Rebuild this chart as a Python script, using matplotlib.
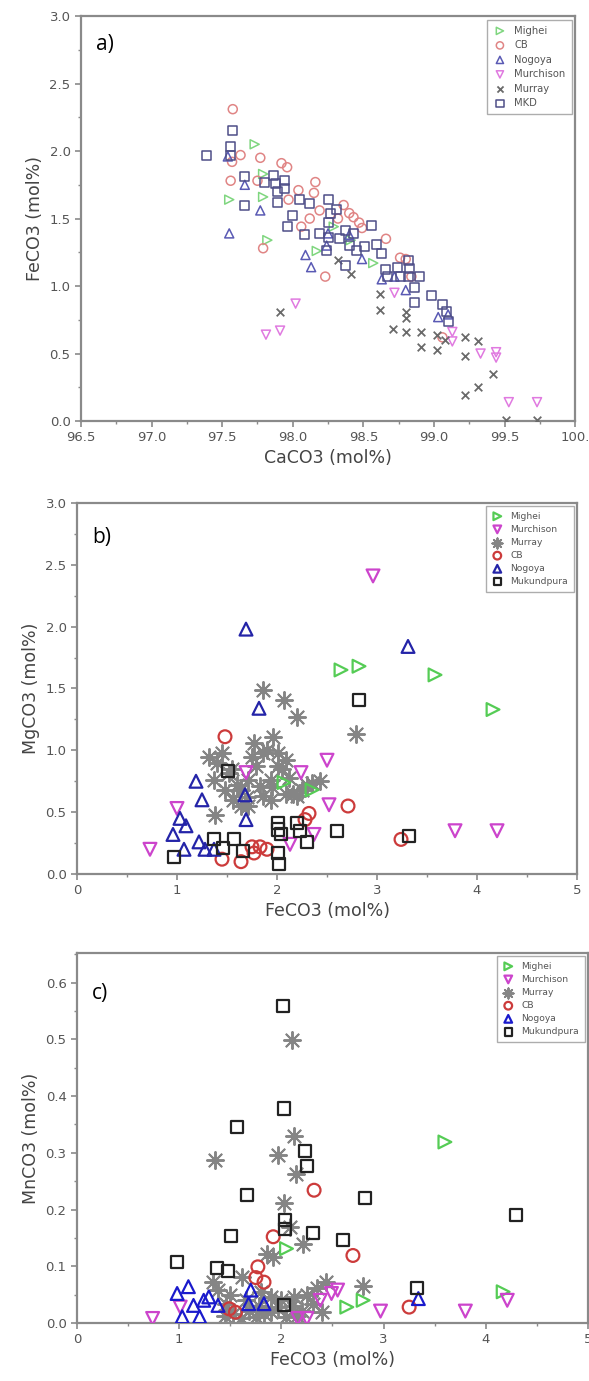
import matplotlib
matplotlib.use("Agg")
import matplotlib.pyplot as plt
from matplotlib.ticker import AutoMinorLocator, MultipleLocator


# ---- panel a) data: CaCO3 vs FeCO3 (mol%) ----
a_mighei_x = [97.55, 97.73, 97.82, 97.79, 97.79, 98.17, 98.29, 98.57, 98.41]
a_mighei_y = [1.64, 2.05, 1.34, 1.66, 1.83, 1.26, 1.44, 1.17, 1.34]

a_cb_x = [97.575, 97.63, 97.56, 97.57, 97.77, 97.75, 97.79, 97.92, 97.96, 97.97,
          98.04, 98.06, 98.12, 98.16, 98.15, 98.19, 98.23, 98.32, 98.36, 98.40,
          98.43, 98.47, 98.49, 98.66, 98.76, 98.80, 99.06, 98.84]
a_cb_y = [2.31, 1.97, 1.78, 1.92, 1.95, 1.78, 1.28, 1.91, 1.88, 1.64,
          1.71, 1.44, 1.50, 1.77, 1.69, 1.56, 1.07, 1.50, 1.60, 1.54,
          1.51, 1.47, 1.43, 1.35, 1.21, 1.20, 0.62, 1.07]

a_nogoya_x = [97.55, 97.54, 97.66, 97.77, 98.09, 98.13, 98.24, 98.25, 98.40, 98.49,
              98.63, 98.72, 98.80, 99.03, 99.10]
a_nogoya_y = [1.39, 1.96, 1.75, 1.56, 1.23, 1.14, 1.30, 1.39, 1.38, 1.20,
              1.05, 1.07, 0.97, 0.77, 0.79]

a_murchison_x = [97.81, 97.91, 98.02, 98.72, 99.13, 99.13, 99.33, 99.44, 99.44, 99.53, 99.73]
a_murchison_y = [0.64, 0.67, 0.87, 0.95, 0.66, 0.59, 0.50, 0.51, 0.47, 0.14, 0.14]

a_murray_x = [97.91, 98.41, 98.32, 98.62, 98.62, 98.71, 98.80, 98.80, 98.80, 98.91,
              98.91, 99.02, 99.02, 99.22, 99.22, 99.31, 99.42, 99.31, 99.22, 99.51,
              99.73, 99.08]
a_murray_y = [0.81, 1.09, 1.19, 0.94, 0.82, 0.68, 0.76, 0.66, 0.81, 0.66,
              0.55, 0.64, 0.53, 0.62, 0.48, 0.59, 0.35, 0.25, 0.19, 0.01,
              0.01, 0.60]

a_mkd_x = [97.39, 97.575, 97.56, 97.56, 97.66, 97.66, 97.80, 97.86, 97.88, 97.89,
           97.94, 97.94, 97.89, 97.96, 98.00, 98.05, 98.08, 98.12, 98.19, 98.25,
           98.27, 98.25, 98.25, 98.24, 98.31, 98.33, 98.37, 98.40, 98.37, 98.43,
           98.45, 98.51, 98.56, 98.59, 98.63, 98.66, 98.67, 98.74, 98.76, 98.82,
           98.82, 98.83, 98.86, 98.86, 98.90, 98.98, 99.06, 99.09, 99.10]
a_mkd_y = [1.97, 2.15, 2.03, 1.97, 1.81, 1.60, 1.77, 1.82, 1.76, 1.70,
           1.78, 1.72, 1.62, 1.44, 1.52, 1.64, 1.38, 1.61, 1.39, 1.64,
           1.54, 1.47, 1.36, 1.26, 1.57, 1.35, 1.41, 1.30, 1.15, 1.39,
           1.26, 1.29, 1.45, 1.31, 1.24, 1.12, 1.07, 1.14, 1.07, 1.19,
           1.07, 1.13, 0.99, 0.88, 1.07, 0.93, 0.86, 0.81, 0.74]

# ---- panel b) data: FeCO3 vs MgCO3 (mol%) ----
b_mighei_x = [2.64, 2.82, 3.58, 4.16, 2.07, 2.35]
b_mighei_y = [1.65, 1.68, 1.61, 1.33, 0.74, 0.68]

b_murchison_x = [2.96, 2.50, 2.52, 1.00, 0.73, 1.69, 2.24, 3.78, 4.20, 2.13, 2.37]
b_murchison_y = [2.41, 0.92, 0.56, 0.53, 0.20, 0.82, 0.82, 0.35, 0.35, 0.24, 0.32]

b_murray_x = [1.86, 2.07, 2.20, 2.79, 1.32, 1.45, 1.37, 1.38, 1.77, 1.96,
              1.86, 2.01, 2.09, 1.94, 1.83, 1.71, 1.64, 1.56, 1.86, 2.09,
              2.20, 2.35, 2.43, 1.64, 2.01, 1.79, 1.52, 2.16, 1.94, 1.71,
              1.40, 1.55, 1.60, 1.75, 1.90, 2.05, 2.12, 2.25, 1.48, 1.70,
              1.95, 2.30]
b_murray_y = [1.49, 1.41, 1.27, 1.13, 0.95, 0.98, 0.76, 0.48, 1.06, 1.11,
              0.98, 0.98, 0.92, 0.76, 0.71, 0.76, 0.68, 0.60, 0.63, 0.65,
              0.63, 0.74, 0.75, 0.55, 0.87, 0.87, 0.82, 0.65, 0.60, 0.55,
              0.90, 0.85, 0.72, 0.95, 1.00, 0.85, 0.78, 0.68, 0.68, 0.62,
              0.70, 0.72]

b_cb_x = [1.48, 2.32, 2.71, 3.24, 1.45, 1.64, 1.75, 1.83, 1.90, 1.77, 2.28]
b_cb_y = [1.11, 0.49, 0.55, 0.28, 0.12, 0.10, 0.22, 0.22, 0.20, 0.17, 0.44]

b_nogoya_x = [1.69, 3.31, 1.82, 1.19, 1.25, 1.68, 1.69, 1.03, 1.09, 0.96,
              1.07, 1.22, 1.37, 1.28]
b_nogoya_y = [1.98, 1.84, 1.34, 0.75, 0.60, 0.64, 0.44, 0.45, 0.39, 0.32,
              0.20, 0.26, 0.20, 0.20]

b_mukundpura_x = [1.51, 2.82, 2.60, 3.32, 0.97, 1.37, 1.46, 1.57, 1.66, 2.01,
                  2.01, 2.01, 2.02, 2.20, 2.23, 2.30, 2.04]
b_mukundpura_y = [0.83, 1.41, 0.35, 0.31, 0.14, 0.28, 0.21, 0.28, 0.19, 0.41,
                  0.36, 0.17, 0.08, 0.41, 0.35, 0.26, 0.32]

# ---- panel c) data: FeCO3 vs MnCO3 (mol%) ----
c_mighei_x = [3.60, 2.05, 2.64, 2.80, 4.17]
c_mighei_y = [0.319, 0.131, 0.028, 0.040, 0.055]

c_murchison_x = [0.74, 2.97, 3.80, 4.21, 2.55, 2.38, 1.01, 2.16, 2.25, 2.49]
c_murchison_y = [0.008, 0.021, 0.021, 0.040, 0.058, 0.040, 0.028, 0.008, 0.008, 0.052]

c_murray_x = [1.35, 2.10, 2.12, 1.97, 2.14, 2.03, 2.21, 1.92, 1.86, 2.08,
              2.44, 2.80, 1.33, 1.61, 1.46, 1.68, 1.83, 1.97, 2.12, 2.20,
              2.31, 1.90, 1.75, 2.05, 1.38, 1.53, 1.50, 1.65, 1.78, 1.90,
              2.00, 2.10, 2.25, 2.40, 1.45, 1.60, 2.15, 1.80, 2.35]
c_murray_y = [0.287, 0.499, 0.329, 0.296, 0.262, 0.211, 0.140, 0.116, 0.122, 0.169,
              0.072, 0.066, 0.072, 0.081, 0.034, 0.022, 0.016, 0.028, 0.046, 0.022,
              0.034, 0.046, 0.011, 0.011, 0.058, 0.016, 0.050, 0.040, 0.030, 0.020,
              0.040, 0.030, 0.050, 0.020, 0.012, 0.008, 0.012, 0.055, 0.062]

c_cb_x = [1.92, 2.32, 2.70, 1.77, 1.75, 1.83, 1.49, 3.25, 1.55]
c_cb_y = [0.152, 0.234, 0.119, 0.099, 0.080, 0.072, 0.025, 0.028, 0.019]

c_nogoya_x = [0.98, 1.09, 1.24, 1.14, 1.38, 1.03, 1.20, 1.70, 1.83, 1.68, 3.34, 1.29]
c_nogoya_y = [0.052, 0.064, 0.040, 0.031, 0.031, 0.011, 0.011, 0.058, 0.034, 0.034, 0.043, 0.046]

c_mukundpura_x = [2.02, 2.03, 1.57, 2.23, 2.25, 1.66, 2.82, 4.30, 2.04, 2.04,
                  2.31, 2.60, 1.51, 0.98, 1.37, 1.48, 3.33, 2.03]
c_mukundpura_y = [0.559, 0.378, 0.345, 0.303, 0.276, 0.226, 0.221, 0.190, 0.182, 0.165,
                  0.158, 0.146, 0.153, 0.108, 0.097, 0.092, 0.061, 0.031]

TICK_COLOR = "#555555"
SPINE_COLOR = "#8a8a8a"


# style one panel: spines, ticks, limits, labels and the panel letter
def style_axes(ax, xlim, ylim, xmajor, ymajor, xlabel, ylabel, letter, letter_y):
    ax.set_xlim(*xlim)
    ax.set_ylim(*ylim)
    ax.xaxis.set_major_locator(MultipleLocator(xmajor))
    ax.yaxis.set_major_locator(MultipleLocator(ymajor))
    ax.xaxis.set_minor_locator(AutoMinorLocator(2))
    ax.yaxis.set_minor_locator(AutoMinorLocator(2))
    for spine in ax.spines.values():
        spine.set_color(SPINE_COLOR)
        spine.set_linewidth(1.6)
    ax.tick_params(which="major", direction="out", length=4, width=1.2,
                   color=SPINE_COLOR, labelcolor=TICK_COLOR, labelsize=9.5)
    ax.tick_params(which="minor", direction="out", length=2, width=1.0, color=SPINE_COLOR)
    ax.set_xlabel(xlabel, fontsize=12.5, color="#444444", labelpad=3)
    ax.set_ylabel(ylabel, fontsize=12.5, color="#444444", labelpad=4)
    ax.text(0.03, letter_y, letter, transform=ax.transAxes, fontsize=15,
            color="black", va="center", ha="left", family="Open Sans")


def draw_legend(ax, handles_scale, size):
    leg = ax.legend(loc="upper right", fontsize=size, frameon=True, fancybox=False,
                    borderpad=0.6, labelspacing=0.45, handletextpad=0.8,
                    handlelength=1.3, borderaxespad=0.35, markerscale=handles_scale)
    leg.get_frame().set_edgecolor("#999999")
    leg.get_frame().set_linewidth(1.0)
    for txt in leg.get_texts():
        txt.set_color("#555555")


def main():
    fig = plt.figure(figsize=(5.89, 13.81), dpi=100)

    # panel a)
    ax_a = fig.add_axes([0.1375, 0.6951, 0.839, 0.2933])
    ms_a = 42
    ax_a.scatter(a_mighei_x, a_mighei_y, marker=">", s=ms_a, facecolors="none",
                 edgecolors="#7fd67f", linewidths=1.1, label="Mighei", zorder=3)
    ax_a.scatter(a_cb_x, a_cb_y, marker="o", s=ms_a, facecolors="none",
                 edgecolors="#e08585", linewidths=1.1, label="CB", zorder=3)
    ax_a.scatter(a_nogoya_x, a_nogoya_y, marker="^", s=ms_a, facecolors="none",
                 edgecolors="#5a5ab4", linewidths=1.1, label="Nogoya", zorder=3)
    ax_a.scatter(a_murchison_x, a_murchison_y, marker="v", s=ms_a, facecolors="none",
                 edgecolors="#e07ae0", linewidths=1.1, label="Murchison", zorder=3)
    ax_a.scatter(a_murray_x, a_murray_y, marker="x", s=30, color="#6a6a6a",
                 linewidths=1.3, label="Murray", zorder=3)
    ax_a.scatter(a_mkd_x, a_mkd_y, marker="s", s=ms_a, facecolors="none",
                 edgecolors="#4e4e88", linewidths=1.1, label="MKD", zorder=4)
    style_axes(ax_a, (96.5, 100.0), (0, 3.0), 0.5, 0.5,
               "CaCO3 (mol%)", "FeCO3 (mol%)", "a)", 0.93)
    ax_a.xaxis.set_major_formatter(plt.FuncFormatter(
        lambda v, p: "100." if v >= 99.99 else f"{v:.1f}"))
    draw_legend(ax_a, 0.8, 7.2)

    # panel b)
    ax_b = fig.add_axes([0.1307, 0.3671, 0.849, 0.2687])
    ms_b = 85
    ax_b.scatter(b_mighei_x, b_mighei_y, marker=">", s=ms_b, facecolors="none",
                 edgecolors="#55cc55", linewidths=1.6, label="Mighei", zorder=3)
    ax_b.scatter(b_murchison_x, b_murchison_y, marker="v", s=ms_b, facecolors="none",
                 edgecolors="#cc44cc", linewidths=1.6, label="Murchison", zorder=3)
    ax_b.scatter(b_murray_x, b_murray_y, marker=(8, 2, 0), s=150, color="#858585",
                 linewidths=1.4, label="Murray", zorder=2)
    ax_b.scatter(b_cb_x, b_cb_y, marker="o", s=ms_b, facecolors="none",
                 edgecolors="#cc3b3b", linewidths=1.6, label="CB", zorder=3)
    ax_b.scatter(b_nogoya_x, b_nogoya_y, marker="^", s=ms_b, facecolors="none",
                 edgecolors="#2424a8", linewidths=1.6, label="Nogoya", zorder=3)
    ax_b.scatter(b_mukundpura_x, b_mukundpura_y, marker="s", s=75, facecolors="none",
                 edgecolors="#222222", linewidths=1.6, label="Mukundpura", zorder=4)
    style_axes(ax_b, (0, 5), (0, 3.0), 1, 0.5,
               "FeCO3 (mol%)", "MgCO3 (mol%)", "b)", 0.908)
    ax_b.xaxis.set_major_formatter(plt.FuncFormatter(lambda v, p: f"{v:.0f}"))
    draw_legend(ax_b, 0.6, 6.6)

    # panel c)
    ax_c = fig.add_axes([0.1307, 0.042, 0.8676, 0.2679])
    ax_c.scatter(c_mighei_x, c_mighei_y, marker=">", s=ms_b, facecolors="none",
                 edgecolors="#55cc55", linewidths=1.6, label="Mighei", zorder=3)
    ax_c.scatter(c_murchison_x, c_murchison_y, marker="v", s=ms_b, facecolors="none",
                 edgecolors="#cc44cc", linewidths=1.6, label="Murchison", zorder=3)
    ax_c.scatter(c_murray_x, c_murray_y, marker=(8, 2, 0), s=150, color="#858585",
                 linewidths=1.4, label="Murray", zorder=2)
    ax_c.scatter(c_cb_x, c_cb_y, marker="o", s=ms_b, facecolors="none",
                 edgecolors="#cc3b3b", linewidths=1.6, label="CB", zorder=3)
    ax_c.scatter(c_nogoya_x, c_nogoya_y, marker="^", s=ms_b, facecolors="none",
                 edgecolors="#1a1acc", linewidths=1.6, label="Nogoya", zorder=3)
    ax_c.scatter(c_mukundpura_x, c_mukundpura_y, marker="s", s=75, facecolors="none",
                 edgecolors="#222222", linewidths=1.6, label="Mukundpura", zorder=4)
    style_axes(ax_c, (0, 5), (0, 0.652), 1, 0.1,
               "FeCO3 (mol%)", "MnCO3 (mol%)", "c)", 0.89)
    ax_c.xaxis.set_major_formatter(plt.FuncFormatter(lambda v, p: f"{v:.0f}"))
    draw_legend(ax_c, 0.6, 6.6)

    fig.savefig("out.png", dpi=100)


main()
